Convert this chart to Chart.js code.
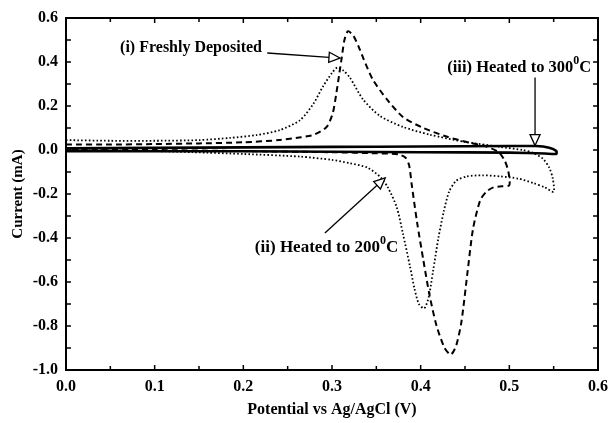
<!DOCTYPE html>
<html>
<head>
<meta charset="utf-8">
<script src="https://cdn.jsdelivr.net/npm/chart.js@4"></script>
<style>
  html, body { margin: 0; padding: 0; background: #fff; }
</style>
</head>
<body>
<canvas id="cv" width="610" height="423"></canvas>
<script>
// (i) freshly deposited - dashed
const freshX = [0, 0.05, 0.1, 0.15, 0.2, 0.24, 0.265, 0.28, 0.294, 0.301, 0.305, 0.308, 0.311, 0.314, 0.318, 0.324, 0.33, 0.336, 0.346, 0.362, 0.38, 0.403, 0.43, 0.452, 0.474, 0.488, 0.495, 0.499, 0.5,
  0.492, 0.482, 0.474, 0.467, 0.459, 0.453, 0.446, 0.44, 0.434, 0.427, 0.418, 0.41, 0.403, 0.396, 0.39, 0.387, 0.383, 0.375, 0.35, 0.3, 0.2, 0.1, 0.0];
const freshY = [0.025, 0.025, 0.027, 0.03, 0.035, 0.045, 0.058, 0.07, 0.105, 0.17, 0.26, 0.34, 0.42, 0.5, 0.54, 0.52, 0.47, 0.41, 0.32, 0.23, 0.15, 0.1, 0.06, 0.036, 0.016, -0.01, -0.05, -0.1, -0.16,
  -0.165, -0.17, -0.19, -0.23, -0.36, -0.55, -0.78, -0.89, -0.93, -0.9, -0.8, -0.66, -0.5, -0.33, -0.16, -0.07, -0.035, -0.02, -0.015, -0.01, -0.005, 0.0, 0.005];

// (ii) heated to 200 C - dotted
const h200X = [0, 0.05, 0.1, 0.15, 0.185, 0.215, 0.241, 0.264, 0.279, 0.29, 0.3, 0.306, 0.313, 0.32, 0.335, 0.354, 0.38, 0.41, 0.45, 0.49, 0.515, 0.527, 0.538, 0.545, 0.549, 0.55,
  0.54, 0.527, 0.51, 0.49, 0.47, 0.452, 0.44, 0.432, 0.426, 0.42, 0.414, 0.409, 0.404, 0.398, 0.393, 0.388, 0.38, 0.373, 0.363, 0.355, 0.34, 0.32, 0.3, 0.264, 0.2, 0.143, 0.1, 0.0];
const h200Y = [0.045, 0.042, 0.042, 0.045, 0.055, 0.068, 0.09, 0.136, 0.21, 0.29, 0.35, 0.375, 0.36, 0.33, 0.23, 0.155, 0.105, 0.07, 0.037, 0.014, 0.0, -0.014, -0.04, -0.08, -0.13, -0.19,
  -0.17, -0.15, -0.13, -0.12, -0.115, -0.12, -0.14, -0.19, -0.28, -0.4, -0.55, -0.67, -0.72, -0.7, -0.63, -0.53, -0.38, -0.26, -0.17, -0.125, -0.08, -0.06, -0.045, -0.03, -0.018, -0.01, -0.005, 0.0];

// (iii) heated to 300 C - solid
const h300X = [0, 0.1, 0.2, 0.3, 0.4, 0.5, 0.53, 0.545, 0.553, 0.553, 0.54, 0.5, 0.4, 0.3, 0.2, 0.1, 0];
const h300Y = [0.008, 0.01, 0.012, 0.014, 0.016, 0.018, 0.018, 0.01, -0.005, -0.018, -0.016, -0.012, -0.01, -0.008, -0.006, -0.005, -0.005];

const xTicks = [0, 0.1, 0.2, 0.3, 0.4, 0.5, 0.6];
const yTicks = [-1.0, -0.8, -0.6, -0.4, -0.2, 0.0, 0.2, 0.4, 0.6];

function pts(xs, ys) {
  return xs.map((x, i) => ({ x: x, y: ys[i] }));
}

const serif = '"Liberation Serif", "Times New Roman", serif';

// text with a raised small "0" (degree-like superscript)
function supText(ctx, parts, x, y, size) {
  let cx = x;
  ctx.fillStyle = '#000';
  parts.forEach(p => {
    ctx.font = 'bold ' + (p.sup ? Math.round(size * 0.7) : size) + 'px ' + serif;
    ctx.fillText(p.t, cx, p.sup ? y - size * 0.4 : y);
    cx += ctx.measureText(p.t).width;
  });
}

function arrow(ctx, x1, y1, x2, y2) {
  ctx.beginPath();
  ctx.moveTo(x1, y1);
  const a = Math.atan2(y2 - y1, x2 - x1);
  const len = 11, w = 5;
  const bx = x2 - len * Math.cos(a), by = y2 - len * Math.sin(a);
  ctx.lineTo(bx, by);
  ctx.strokeStyle = '#000';
  ctx.lineWidth = 1.3;
  ctx.stroke();
  ctx.beginPath();
  ctx.moveTo(x2, y2);
  ctx.lineTo(bx + w * Math.sin(a), by - w * Math.cos(a));
  ctx.lineTo(bx - w * Math.sin(a), by + w * Math.cos(a));
  ctx.closePath();
  ctx.fillStyle = '#fff';
  ctx.fill();
  ctx.stroke();
}

const framePlugin = {
  id: 'frame',
  afterDraw(chart) {
    const ctx = chart.ctx;
    const xs = chart.scales.x, ys = chart.scales.y;
    const a = chart.chartArea;
    ctx.save();
    ctx.strokeStyle = '#000';
    ctx.lineWidth = 2;
    ctx.strokeRect(a.left, a.top, a.right - a.left, a.bottom - a.top);
    ctx.lineWidth = 1.5;
    ctx.beginPath();
    for (let v = 0.05; v < 0.6; v += 0.05) {
      const px = xs.getPixelForValue(v);
      const major = Math.abs(v * 10 - Math.round(v * 10)) < 1e-6;
      const l = major ? 5 : 4;
      ctx.moveTo(px, a.bottom); ctx.lineTo(px, a.bottom - l);
      ctx.moveTo(px, a.top); ctx.lineTo(px, a.top + l);
    }
    for (let v = -0.9; v < 0.6; v += 0.1) {
      const py = ys.getPixelForValue(v);
      const l = 5;
      ctx.moveTo(a.left, py); ctx.lineTo(a.left + l, py);
      ctx.moveTo(a.right, py); ctx.lineTo(a.right - l, py);
    }
    ctx.stroke();

    // annotations
    ctx.textBaseline = 'middle';
    ctx.textAlign = 'left';
    supText(ctx, [{ t: '(i) Freshly Deposited' }], xs.getPixelForValue(0.061), ys.getPixelForValue(0.465), 16);
    arrow(ctx, xs.getPixelForValue(0.227), ys.getPixelForValue(0.441), xs.getPixelForValue(0.309), ys.getPixelForValue(0.418));

    supText(ctx, [{ t: '(iii) Heated to 300' }, { t: '0', sup: true }, { t: 'C' }], xs.getPixelForValue(0.43), ys.getPixelForValue(0.375), 16.5);
    arrow(ctx, xs.getPixelForValue(0.529), ys.getPixelForValue(0.33), xs.getPixelForValue(0.529), ys.getPixelForValue(0.02));

    supText(ctx, [{ t: '(ii) Heated to 200' }, { t: '0', sup: true }, { t: 'C' }], xs.getPixelForValue(0.213), ys.getPixelForValue(-0.443), 17);
    arrow(ctx, xs.getPixelForValue(0.292), ys.getPixelForValue(-0.377), xs.getPixelForValue(0.36), ys.getPixelForValue(-0.127));
    ctx.restore();
  }
};

new Chart(document.getElementById('cv'), {
  type: 'scatter',
  data: {
    datasets: [
      {
        label: '(i) Freshly Deposited',
        data: pts(freshX, freshY),
        showLine: true,
        borderColor: '#000',
        borderWidth: 2,
        borderDash: [6, 4],
        pointRadius: 0,
        tension: 0.25
      },
      {
        label: '(ii) Heated to 200C',
        data: pts(h200X, h200Y),
        showLine: true,
        borderColor: '#000',
        borderWidth: 1.8,
        borderDash: [1.6, 2.2],
        pointRadius: 0,
        tension: 0.25
      },
      {
        label: '(iii) Heated to 300C',
        data: pts(h300X, h300Y),
        showLine: true,
        borderColor: '#000',
        borderWidth: 2.6,
        pointRadius: 0,
        tension: 0.2
      }
    ]
  },
  options: {
    responsive: false,
    animation: false,
    layout: { padding: { top: 18, right: 12, left: 0, bottom: 0 } },
    plugins: {
      legend: { display: false },
      tooltip: { enabled: false }
    },
    scales: {
      x: {
        type: 'linear',
        min: 0, max: 0.6,
        afterBuildTicks: s => { s.ticks = xTicks.map(v => ({ value: v })); },
        afterFit: s => { s.height = 53; s.paddingRight = 0; s.paddingLeft = 0; },
        grid: { display: false, drawTicks: false },
        border: { display: false },
        ticks: {
          color: '#000',
          padding: 7,
          font: { family: serif, size: 16, weight: 'bold' },
          callback: v => v.toFixed(1)
        },
        title: {
          display: true,
          text: 'Potential vs Ag/AgCl (V)',
          color: '#000',
          font: { family: serif, size: 16, weight: 'bold' },
          padding: { top: 6 }
        }
      },
      y: {
        type: 'linear',
        min: -1.0, max: 0.6,
        afterBuildTicks: s => { s.ticks = yTicks.map(v => ({ value: v })); },
        afterFit: s => { s.width = 66; s.paddingTop = 0; s.paddingBottom = 0; },
        grid: { display: false, drawTicks: false },
        border: { display: false },
        ticks: {
          color: '#000',
          padding: 8,
          font: { family: serif, size: 16, weight: 'bold' },
          callback: v => v.toFixed(1)
        },
        title: {
          display: true,
          text: 'Current (mA)',
          color: '#000',
          font: { family: serif, size: 15, weight: 'bold' },
          padding: { top: 9, bottom: 0 }
        }
      }
    }
  },
  plugins: [framePlugin]
});
</script>
</body>
</html>
